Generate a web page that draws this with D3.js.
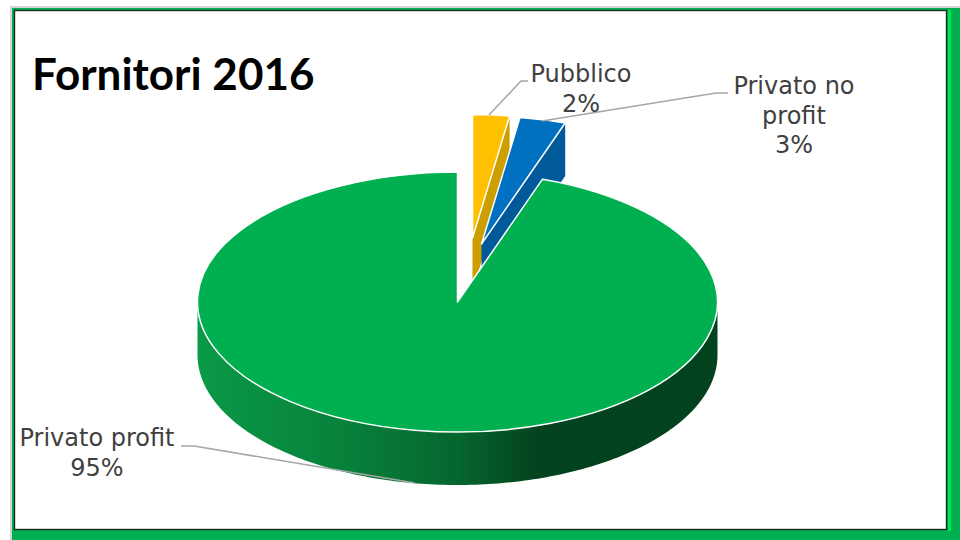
<!DOCTYPE html>
<html>
<head>
<meta charset="utf-8">
<script src="https://cdn.jsdelivr.net/npm/d3@7"></script>
<style>
  html, body { margin: 0; padding: 0; background: #fff; }
  svg { display: block; }
</style>
</head>
<body>
<div class="pie3d"></div>
<script>
// data
const categories = ["Pubblico", "Privato no profit", "Privato profit"];
const shares = [2.4, 2.9, 94.7];
const shown = ["2%", "3%", "95%"];

const topColors = ["#ffc000", "#0070c0", "#00b050"];
const wallColors = ["#cc9e00", "#005a9a", "#00b050"];

// layout
const width = 960, height = 540;
const cx = 457.5, cy = 302, rx = 260, squash = 0.5, depth = 53;
const pieceRadius = [247, 256, 260];
const pieceShift = [[15, -64], [24, -58], [0, 0]];

const svg = d3.select(".pie3d")
  .append("svg")
  .attr("width", width)
  .attr("height", height);

// frame
svg.append("rect").attr("width", width).attr("height", height).attr("fill", "#fff");
svg.append("rect").attr("x", 10).attr("y", 6).attr("width", 950).attr("height", 534).attr("fill", "#d4d4d4");
svg.append("rect").attr("x", 12).attr("y", 8).attr("width", 948).attr("height", 532).attr("fill", "#00b050");
svg.append("rect").attr("x", 948).attr("y", 10).attr("width", 3).attr("height", 521).attr("fill", "#00e850");
svg.append("rect").attr("x", 14.5).attr("y", 10.5).attr("width", 932).attr("height", 519)
  .attr("fill", "#fff").attr("stroke", "#1c2a22").attr("stroke-width", 1.4);

// shading along the front rim of the big slice
const grad = svg.append("defs").append("linearGradient")
  .attr("id", "rim")
  .attr("gradientUnits", "userSpaceOnUse")
  .attr("x1", cx - rx).attr("x2", cx + rx).attr("y1", 0).attr("y2", 0);
[[0, "#0a9a48"], [0.3, "#077f39"], [0.5, "#05662e"], [0.66, "#03421e"], [1, "#03421e"]].forEach(s => {
  grad.append("stop").attr("offset", s[0]).attr("stop-color", s[1]);
});

const pie = d3.pie().sort(null).value(d => d);
const pieces = pie(shares);

function pt(a, r, dx, dy, down) {
  return [cx + dx + r * Math.sin(a), cy + dy - r * squash * Math.cos(a) + down];
}

const line = d3.line();

// small slices first, the big one goes on top of them
[0, 1].forEach(i => {
  const p = pieces[i], r = pieceRadius[i], s = pieceShift[i];
  const wall = [
    pt(0, 0, s[0], s[1], 0),
    pt(p.endAngle, r, s[0], s[1], 0),
    pt(p.endAngle, r, s[0], s[1], depth),
    pt(0, 0, s[0], s[1], depth)
  ];
  svg.append("path")
    .attr("d", line(wall) + "Z")
    .attr("fill", wallColors[i]);
});

const arc = d3.arc().innerRadius(0);

pieces.forEach((p, i) => {
  const s = pieceShift[i];
  if (i == 2) {
    // front rim, half ellipse pushed down by the depth
    const steps = d3.range(0, 181).map(k => Math.PI / 2 + k * Math.PI / 180);
    const rimPts = steps.map(a => pt(a, rx, 0, 0, 0))
      .concat(steps.slice().reverse().map(a => pt(a, rx, 0, 0, depth)));
    svg.append("path")
      .attr("d", line(rimPts) + "Z")
      .attr("fill", "url(#rim)");
  }
  svg.append("path")
    .attr("d", arc.outerRadius(pieceRadius[i])(p))
    .attr("transform", `translate(${cx + s[0]},${cy + s[1]}) scale(1,${squash})`)
    .attr("fill", topColors[i])
    .attr("stroke", "#fff")
    .attr("stroke-width", 1.5)
    .attr("stroke-linejoin", "round")
    .attr("vector-effect", "non-scaling-stroke");
});

// leader lines
const leaders = [
  [[489, 115], [521, 81], [528, 81]],
  [[542, 121], [716, 93], [728, 93]],
  [[181, 446], [194, 446], [415, 483]]
];
svg.selectAll(".leader")
  .data(leaders)
  .enter()
  .append("path")
  .attr("class", "leader")
  .attr("d", line)
  .attr("fill", "none")
  .attr("stroke", "#a6a6a6")
  .attr("stroke-width", 1.5);

// labels
const labelLines = [
  [categories[0], shown[0]],
  ["Privato no", "profit", shown[1]],
  [categories[2], shown[2]]
];
const labelPos = [[581, 82], [794, 94], [97, 446]];
const labelStep = 29.5;

labelLines.forEach((rows, i) => {
  svg.append("text")
    .attr("text-anchor", "middle")
    .attr("font-family", "DejaVu Sans, Verdana, sans-serif")
    .attr("font-size", 24)
    .attr("fill", "#404040")
    .selectAll("tspan")
    .data(rows)
    .enter()
    .append("tspan")
    .attr("x", labelPos[i][0])
    .attr("y", (d, k) => labelPos[i][1] + k * labelStep)
    .text(d => d);
});

svg.append("text")
  .attr("x", 32)
  .attr("y", 90)
  .attr("font-family", "Lato, Carlito, sans-serif")
  .attr("font-weight", 700)
  .attr("font-size", 44)
  .attr("fill", "#000")
  .text("Fornitori 2016");
</script>
</body>
</html>
